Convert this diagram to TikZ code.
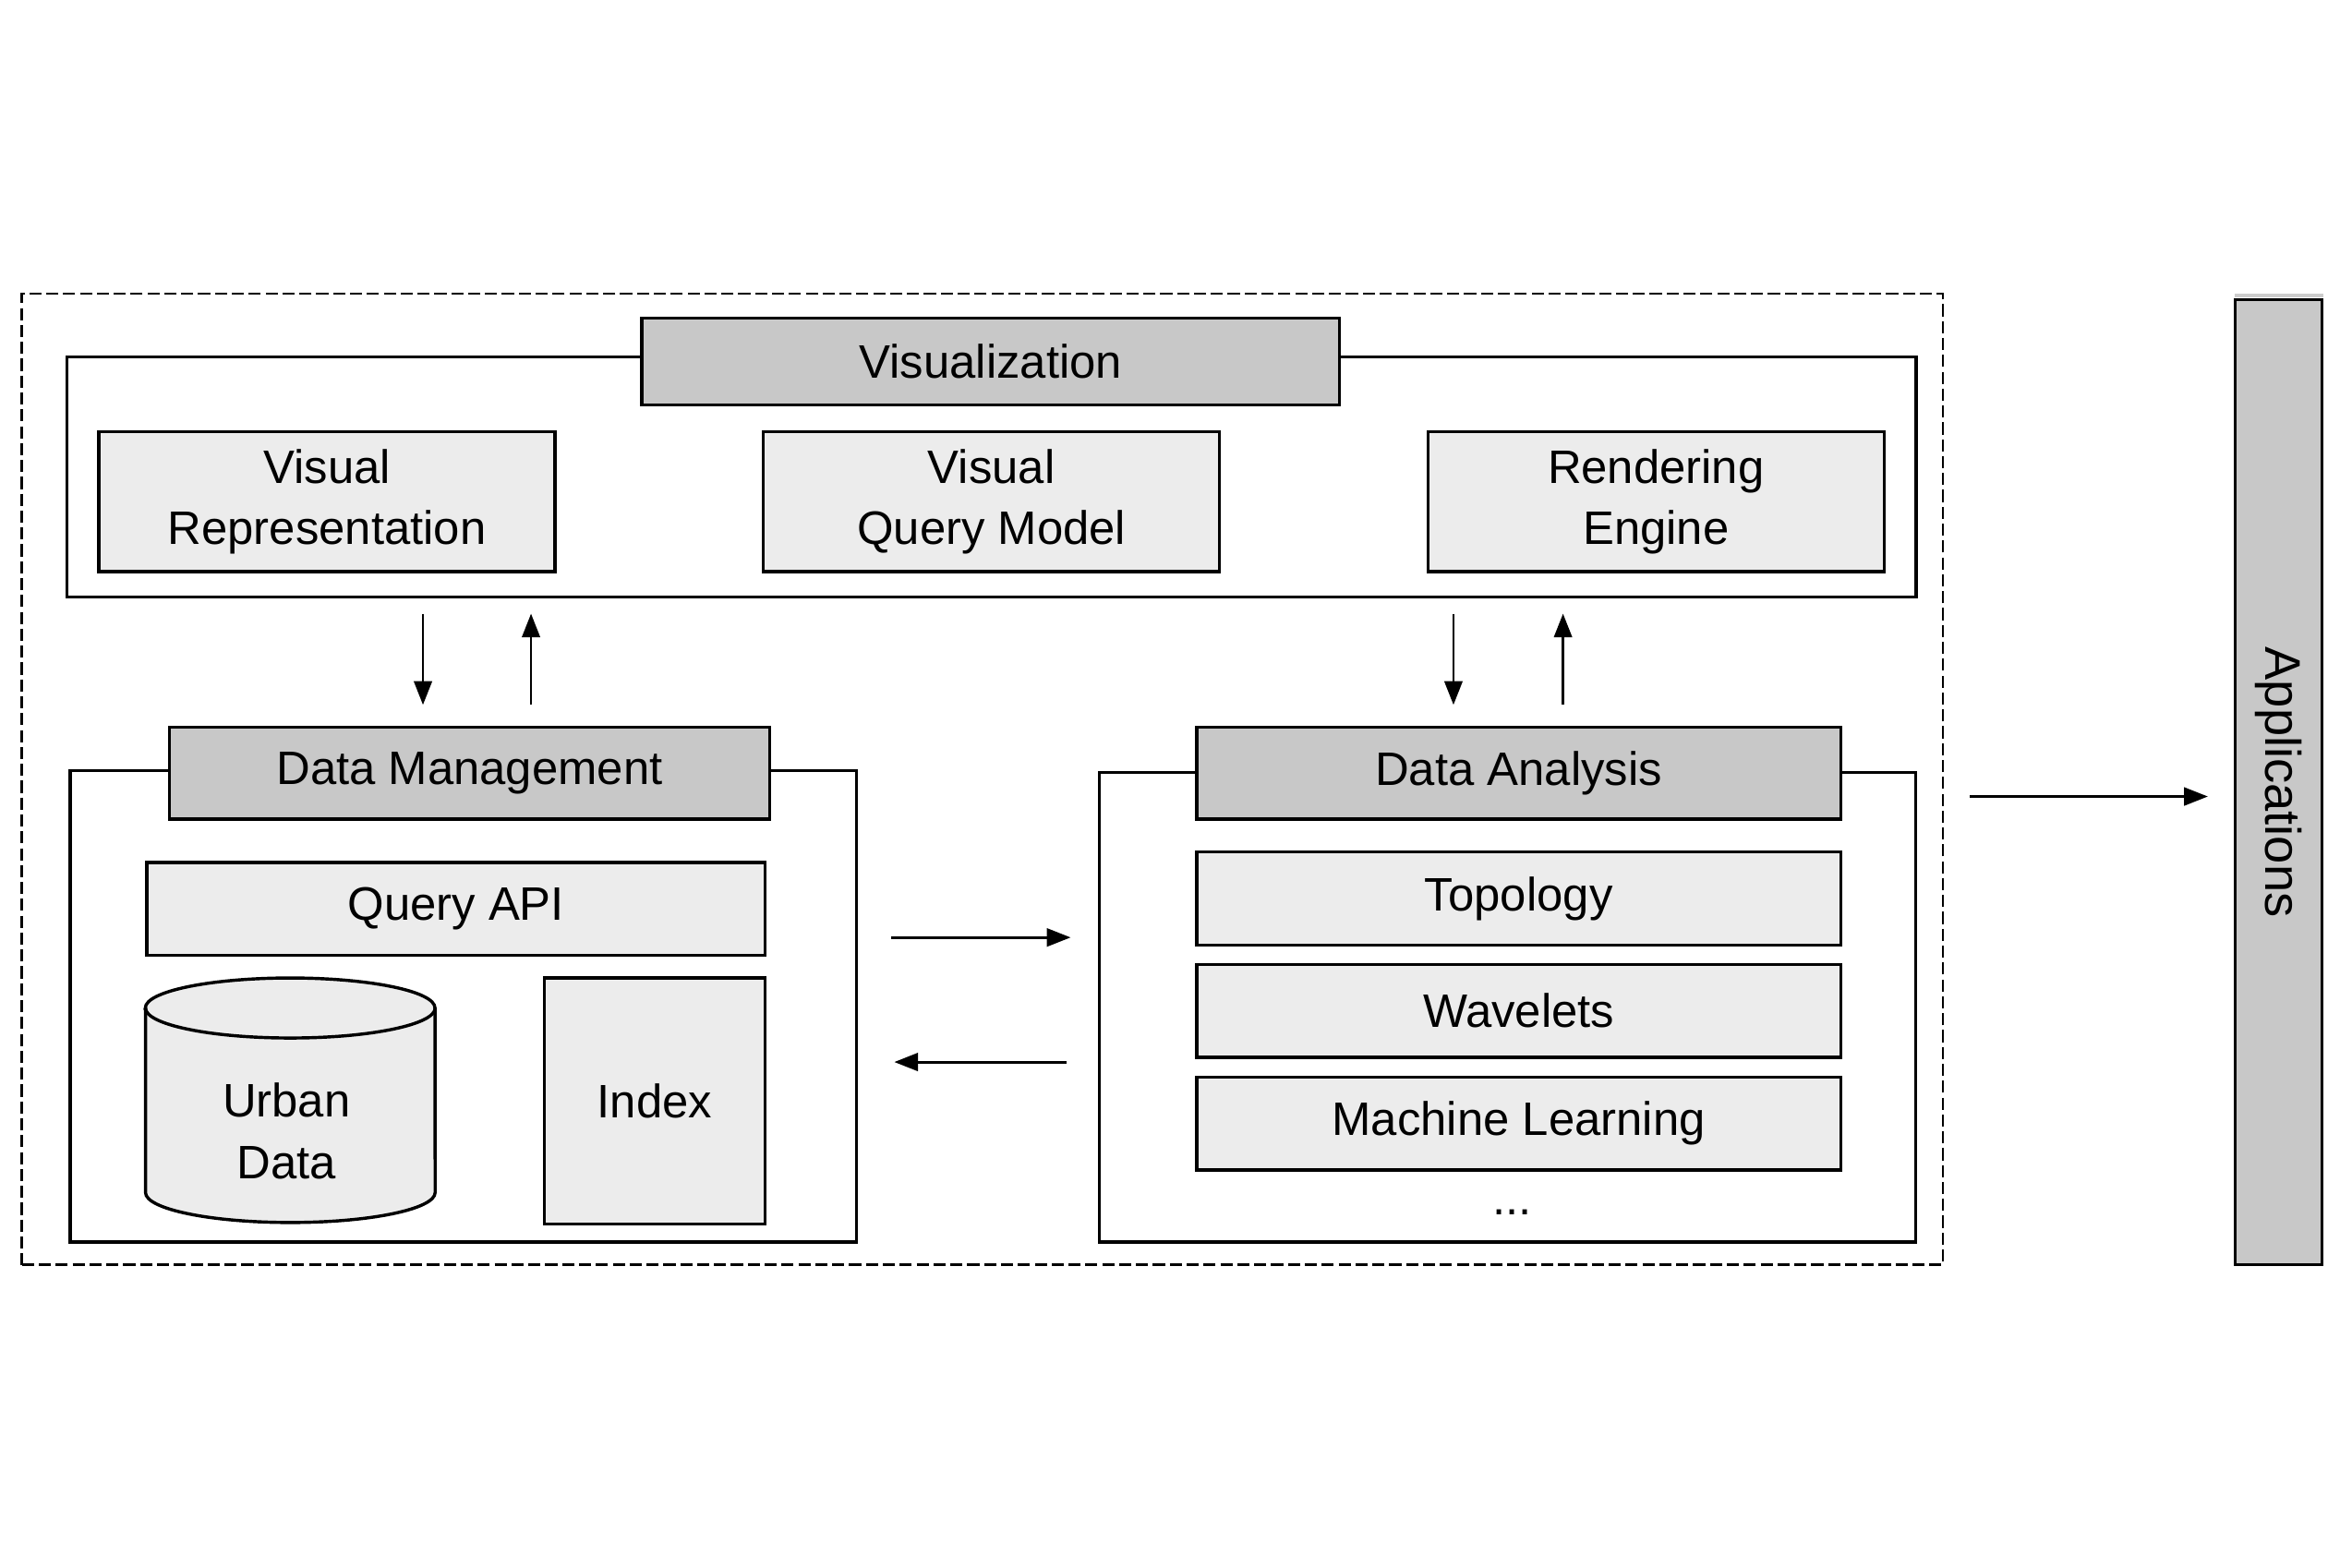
\documentclass[tikz,border=0pt]{standalone}
\usepackage{fontspec}
\setmainfont{Liberation Sans}
\usepackage{tikz}
\usetikzlibrary{calc, shapes.geometric, arrows.meta}

\definecolor{headgray}{HTML}{C8C8C8}
\definecolor{itemgray}{HTML}{ECECEC}

\begin{document}
\begin{tikzpicture}[
        x=0.01cm, y=-0.01cm,
        every node/.style={font=\fontsize{8.9}{11.7}\selectfont, align=center, inner sep=0pt},
        frame/.style={draw, line width=0.6pt},
        head/.style={draw, line width=0.6pt, fill=headgray},
        item/.style={draw, line width=0.6pt, fill=itemgray},
        arr/.style={-{Triangle[length=4.5pt, width=3.4pt]}, line width=0.5pt},
        rim/.style={x radius=0.965cm, y radius=0.2cm}
    ]
        \useasboundingbox (0,0) rectangle (1568,1045.33);

        % Dashed frame round the whole system
        \node[draw, dash pattern=on 2.3pt off 0.9pt, line width=0.45pt, minimum width=12.80cm, minimum height=6.47cm] (sys) at (655,519.5) {};

        % Visualization layer
        \node[frame, minimum width=12.32cm, minimum height=1.60cm] (vis) at (661,318) {};
        \node[head, minimum width=4.65cm, minimum height=0.58cm] (vist) at (660.5,241) {Visualization};
        \node[item, minimum width=3.04cm, minimum height=0.93cm] (vr) at (218,334.5) {Visual\\Representation};
        \node[item, minimum width=3.04cm, minimum height=0.93cm] (vqm) at (661,334.5) {Visual\\Query Model};
        \node[item, minimum width=3.04cm, minimum height=0.93cm] (re) at (1104,334.5) {Rendering\\Engine};

        % Data Management layer
        \node[frame, minimum width=5.24cm, minimum height=3.14cm] (dm) at (309,671) {};
        \node[head, minimum width=4.00cm, minimum height=0.61cm] (dmt) at (313,515.5) {Data Management};
        \node[item, minimum width=4.12cm, minimum height=0.62cm] (qapi) at (304,606) {Query API};
        % database cylinder
        \draw[item] (97,672) -- (97,795) arc[rim, start angle=180, end angle=360] -- (290,672) arc[rim, start angle=0, end angle=180] -- cycle;
        \draw[line width=0.6pt] (97,672) arc[rim, start angle=180, end angle=360];
        \node (urban) at (191,754) {Urban\\Data};
        \node[item, minimum width=1.47cm, minimum height=1.64cm] (idx) at (436.5,734) {Index};

        % Data Analysis layer
        \node[frame, minimum width=5.44cm, minimum height=3.13cm] (da) at (1005,671.5) {};
        \node[head, minimum width=4.29cm, minimum height=0.61cm] (dat) at (1012.5,515.5) {Data Analysis};
        \node[item, minimum width=4.29cm, minimum height=0.62cm] (topo) at (1012.5,599) {Topology};
        \node[item, minimum width=4.29cm, minimum height=0.62cm] (wav) at (1012.5,674) {Wavelets};
        \node[item, minimum width=4.29cm, minimum height=0.62cm] (ml) at (1012.5,749) {Machine Learning};
        \node (more) at (1008,808) {...};

        % Applications bar
        \draw[black!20, line width=0.8pt] (1490,197) -- (1549,197);
        \node[head, rotate=-90, minimum width=6.43cm, minimum height=0.58cm, font=\fontsize{9.5}{11}\selectfont] (app) at (1519,521.5) {Applications};

        % Arrows between the layers
        \coordinate (dmdown) at ([xshift=-0.31cm]dmt.north);
        \coordinate (dmup) at ([xshift=0.41cm]dmt.north);
        \coordinate (dadown) at ([xshift=-0.435cm]dat.north);
        \coordinate (daup) at ([xshift=0.295cm]dat.north);
        \draw[arr, shorten <=0.1cm, shorten >=0.14cm] (dmdown |- vis.south) -- (dmdown);
        \draw[arr, shorten <=0.14cm, shorten >=0.1cm] (dmup) -- (dmup |- vis.south);
        \draw[arr, shorten <=0.1cm, shorten >=0.14cm] (dadown |- vis.south) -- (dadown);
        \draw[arr, shorten <=0.14cm, shorten >=0.1cm] (daup) -- (daup |- vis.south);

        \coordinate (fwd) at ([yshift=0.46cm]dm.east);
        \coordinate (bwd) at ([yshift=-0.37cm]dm.east);
        \draw[arr, shorten <=0.22cm, shorten >=0.18cm] (fwd) -- (fwd -| da.west);
        \draw[arr, shorten <=0.21cm, shorten >=0.24cm] (bwd -| da.west) -- (bwd);

        \coordinate (out) at ([yshift=-0.115cm]sys.east);
        \draw[arr, shorten <=0.17cm, shorten >=0.17cm] (out) -- (out -| app.south);
    \end{tikzpicture}
\end{document}
